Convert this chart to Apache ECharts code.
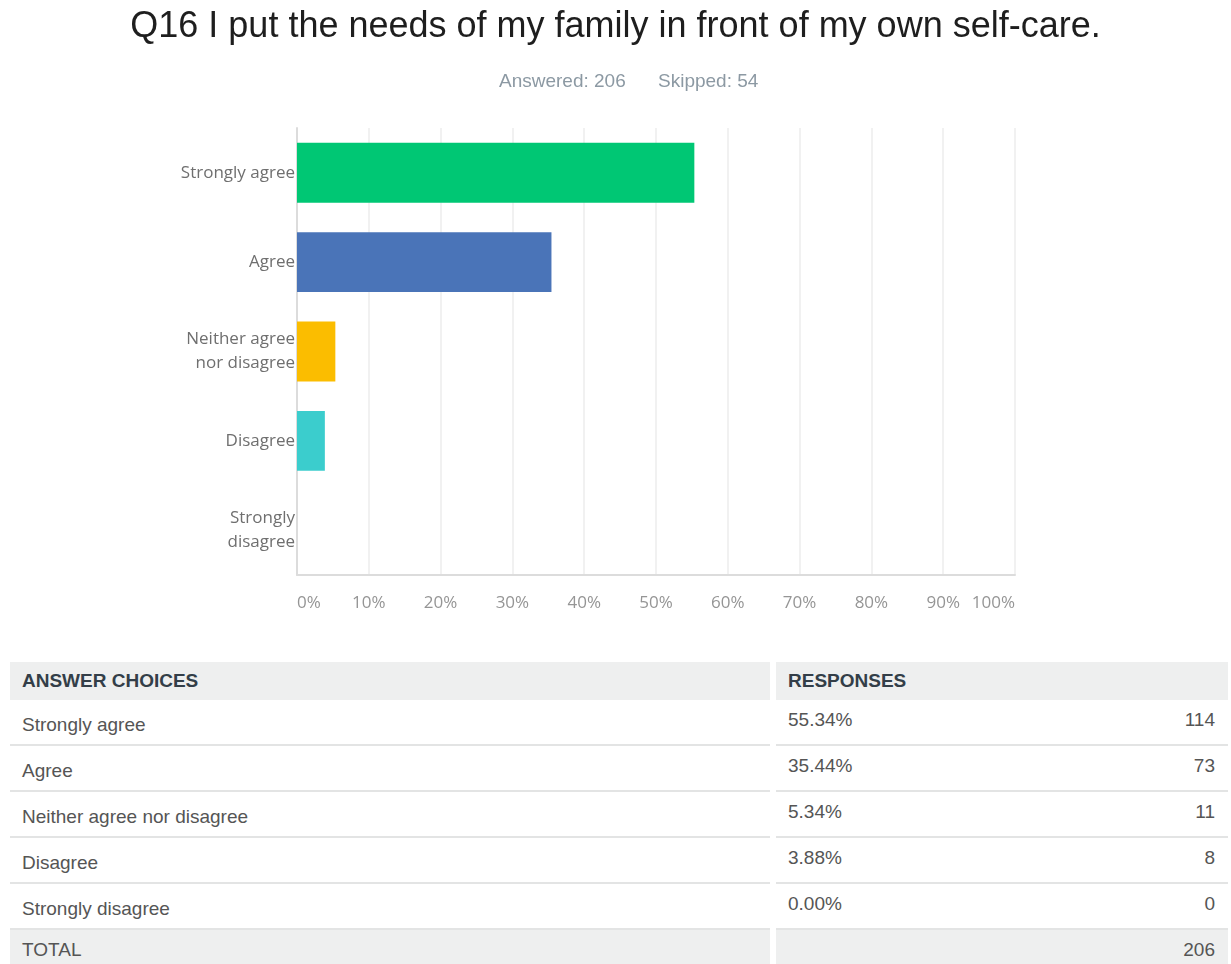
<!DOCTYPE html>
<html>
<head>
<meta charset="utf-8">
<title>Q16 self-care survey</title>
<script src="https://cdn.jsdelivr.net/npm/echarts@6/dist/echarts.min.js"></script>
<style>
  html, body { margin: 0; padding: 0; background: #fff; width: 1231px; height: 964px; overflow: hidden; }
  #chart { position: absolute; left: 0; top: 0; width: 1231px; height: 640px; }
  #table { position: absolute; left: 0; top: 662px; width: 1231px; height: 302px;
           font-family: "Liberation Sans", Arial, sans-serif; font-size: 19px; color: #555; }
  .row { position: absolute; left: 0; width: 1231px; }
  .cell { position: absolute; top: 0; bottom: 0; box-sizing: border-box; }
  .c1 { left: 10px; width: 760px; }
  .c2 { left: 776px; width: 452px; }
  .shade .cell { background: #eeefef; }
  .line .cell { border-bottom: 2px solid #e3e4e4; }
  .txt { position: absolute; line-height: 22px; white-space: nowrap; }
  .head .txt { font-weight: bold; color: #333e48; }
</style>
</head>
<body>
<div id="chart"></div>
<div id="table"></div>
<script>
// Survey question and response summary
const questionTitle = 'Q16 I put the needs of my family in front of my own self-care.';
const answeredCount = 206;
const skippedCount = 54;

// Answer choices, as listed in the table and on the chart axis
const choices = ['Strongly agree', 'Agree', 'Neither agree nor disagree', 'Disagree', 'Strongly disagree'];
const axisLabels = ['Strongly agree', 'Agree', 'Neither agree\nnor disagree', 'Disagree', 'Strongly\ndisagree'];

// Share of respondents (%) and response counts per choice
const percentages = [55.34, 35.44, 5.34, 3.88, 0.00];
const counts = [114, 73, 11, 8, 0];

// Bar colours per choice
const barColors = ['#00c774', '#4a74b8', '#fbbd00', '#3bcdcd', '#9b9b9b'];

// Percent axis ticks
const percentTicks = [0, 10, 20, 30, 40, 50, 60, 70, 80, 90, 100];

const chart = echarts.init(document.getElementById('chart'), null, { renderer: 'canvas' });

chart.setOption({
  animation: false,
  backgroundColor: '#ffffff',
  title: [
    {
      text: questionTitle,
      left: 'center',
      top: 4,
      textStyle: { fontFamily: '"Liberation Sans", Arial, sans-serif', fontSize: 36, fontWeight: 'normal', color: '#1e1e1e' }
    },
    {
      text: 'Answered: ' + answeredCount,
      left: 494,
      top: 67,
      textStyle: { fontFamily: '"Liberation Sans", Arial, sans-serif', fontSize: 19, fontWeight: 'normal', color: '#8c99a3' }
    },
    {
      text: 'Skipped: ' + skippedCount,
      left: 653,
      top: 67,
      textStyle: { fontFamily: '"Liberation Sans", Arial, sans-serif', fontSize: 19, fontWeight: 'normal', color: '#8c99a3' }
    }
  ],
  grid: { left: 297, right: 216, top: 128, bottom: 65, containLabel: false, outerBoundsMode: 'none' },
  xAxis: {
    type: 'value',
    min: percentTicks[0],
    max: percentTicks[percentTicks.length - 1],
    interval: percentTicks[1] - percentTicks[0],
    axisLine: { show: true, lineStyle: { color: '#dcdcdc', width: 2 } },
    axisTick: { show: false },
    splitLine: { show: true, lineStyle: { color: '#ededed', width: 1.5 } },
    axisLabel: {
      formatter: '{value}%',
      margin: 20,
      alignMinLabel: 'left',
      alignMaxLabel: 'right',
      fontFamily: '"Open Sans", sans-serif',
      fontSize: 17,
      color: '#959595'
    }
  },
  yAxis: {
    type: 'category',
    inverse: true,
    data: axisLabels,
    axisLine: { show: true, lineStyle: { color: '#dcdcdc', width: 2 } },
    axisTick: { show: false },
    splitLine: { show: false },
    axisLabel: {
      margin: 2,
      fontFamily: '"Open Sans", sans-serif',
      fontSize: 17,
      lineHeight: 24,
      color: '#6f6f6f'
    }
  },
  series: [{
    type: 'bar',
    barCategoryGap: '33%',
    data: percentages.map((v, i) => ({ value: v, itemStyle: { color: barColors[i] } })),
    label: { show: false }
  }]
});

// Response table beneath the chart
const table = document.getElementById('table');

function addRow(top, height, cls, c1Text, c1Top, pctText, pctTop, countText, countTop) {
  const row = document.createElement('div');
  row.className = 'row ' + cls;
  row.style.top = top + 'px';
  row.style.height = height + 'px';
  const a = document.createElement('div');
  a.className = 'cell c1';
  const b = document.createElement('div');
  b.className = 'cell c2';
  const t1 = document.createElement('span');
  t1.className = 'txt';
  t1.style.left = '12px';
  t1.style.top = c1Top + 'px';
  t1.textContent = c1Text;
  a.appendChild(t1);
  if (pctText !== null) {
    const t2 = document.createElement('span');
    t2.className = 'txt';
    t2.style.left = '12px';
    t2.style.top = pctTop + 'px';
    t2.textContent = pctText;
    b.appendChild(t2);
  }
  if (countText !== null) {
    const t3 = document.createElement('span');
    t3.className = 'txt';
    t3.style.right = '13px';
    t3.style.top = countTop + 'px';
    t3.textContent = countText;
    b.appendChild(t3);
  }
  row.appendChild(a);
  row.appendChild(b);
  table.appendChild(row);
}

addRow(0, 38, 'shade head', 'ANSWER CHOICES', 8, 'RESPONSES', 8, null, 0);
choices.forEach((c, i) => {
  addRow(38 + i * 46, 46, 'line', c, 14, percentages[i].toFixed(2) + '%', 9, String(counts[i]), 9);
});
addRow(38 + choices.length * 46, 34, 'shade', 'TOTAL', 9, null, 0, String(counts.reduce((s, v) => s + v, 0)), 9);
</script>
</body>
</html>
